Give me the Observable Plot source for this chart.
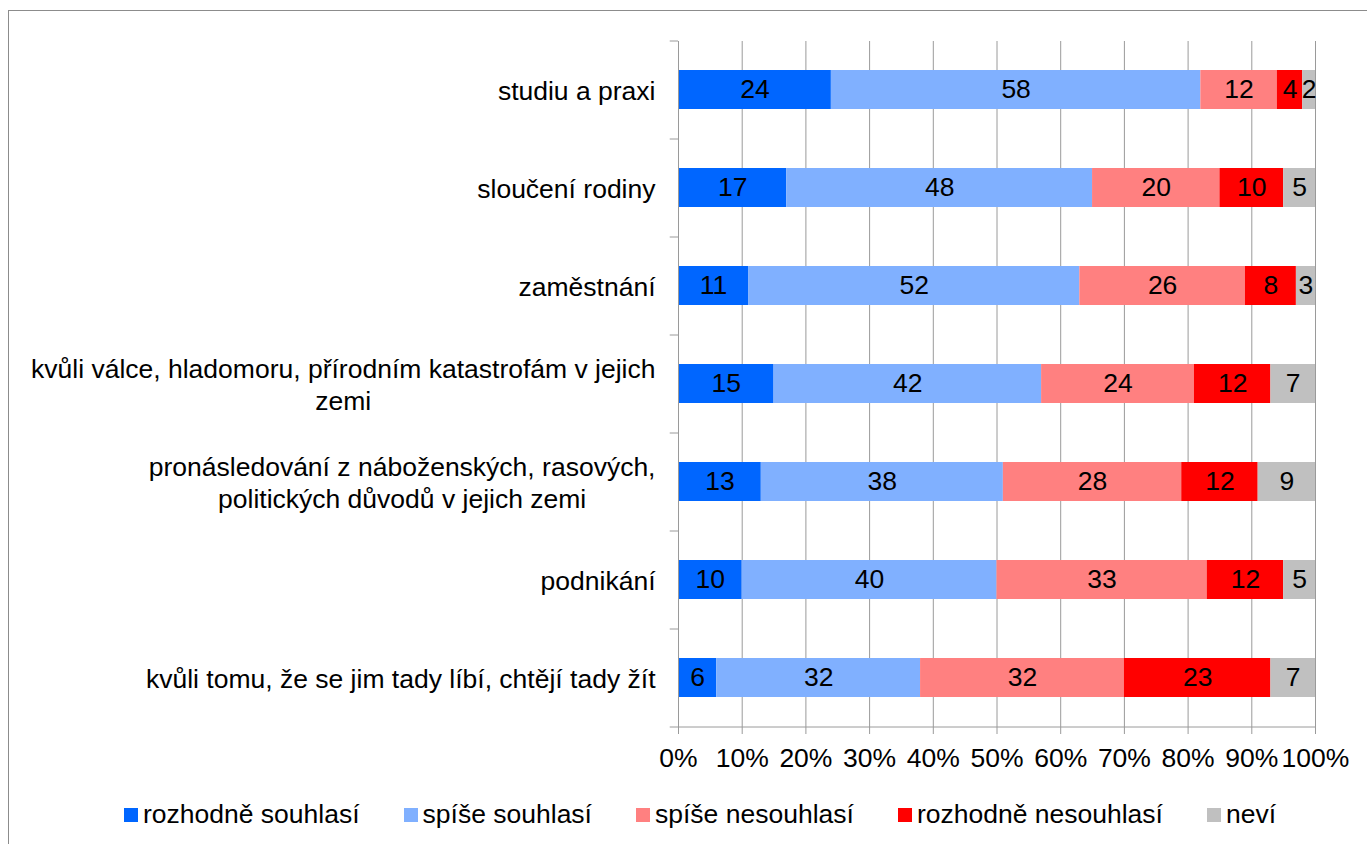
<!DOCTYPE html>
<html>
<head>
<meta charset="utf-8">
<script src="https://cdn.jsdelivr.net/npm/d3@7"></script>
<script src="https://cdn.jsdelivr.net/npm/@observablehq/plot@0.6"></script>
<style>
  html, body { margin: 0; padding: 0; background: #fff; }
  #wrap { position: relative; width: 1367px; height: 844px; overflow: hidden; font-family: "Liberation Sans", Arial, sans-serif; }
  #frame { position: absolute; left: 8px; top: 10px; width: 1500px; height: 1000px; border-left: 1px solid #8c8c8c; border-top: 1px solid #8c8c8c; }
  #chart { position: absolute; left: 0; top: 0; }
  #legend { position: absolute; left: 124px; top: 799px; display: flex; align-items: center; font-size: 26.5px; color: #000; white-space: nowrap; }
  .item { display: flex; align-items: center; margin-right: 44px; }
  .sw { width: 14px; height: 14px; margin-right: 5px; }
</style>
</head>
<body>
<div id="wrap">
  <div id="frame"></div>
  <div id="chart"></div>
  <div id="legend"></div>
</div>
<script>
const categories = [
  "studiu a praxi",
  "sloučení rodiny",
  "zaměstnání",
  "kvůli válce, hladomoru, přírodním katastrofám v jejich\nzemi",
  "pronásledování z náboženských, rasových,\npolitických důvodů v jejich zemi",
  "podnikání",
  "kvůli tomu, že se jim tady líbí, chtějí tady žít"
];
const series = ["rozhodně souhlasí", "spíše souhlasí", "spíše nesouhlasí", "rozhodně nesouhlasí", "neví"];
const colors = ["#0066ff", "#80b0ff", "#ff8080", "#ff0000", "#c0c0c0"];

const rozhodneSouhlasi   = [24, 17, 11, 15, 13, 10, 6];
const spiseSouhlasi      = [58, 48, 52, 42, 38, 40, 32];
const spiseNesouhlasi    = [12, 20, 26, 24, 28, 33, 32];
const rozhodneNesouhlasi = [4, 10, 8, 12, 12, 12, 23];
const nevi               = [2, 5, 3, 7, 9, 5, 7];

const xTicks = [0, 10, 20, 30, 40, 50, 60, 70, 80, 90, 100];

const seriesValues = [rozhodneSouhlasi, spiseSouhlasi, spiseNesouhlasi, rozhodneNesouhlasi, nevi];
const rows = [];
categories.forEach((cat, i) => {
  series.forEach((s, j) => rows.push({cat, series: s, value: seriesValues[j][i]}));
});

const font = "'Liberation Sans', Arial, sans-serif";
const gray = "#9a9a9a";
const lastCat = categories[categories.length - 1];

const plot = Plot.plot({
  width: 1367,
  height: 790,
  marginLeft: 678,
  marginRight: 52,
  marginTop: 41,
  marginBottom: 63,
  style: {fontFamily: font, fontSize: "26.5px", color: "#000", background: "transparent", overflow: "visible"},
  x: {domain: [0, 100], label: null},
  y: {domain: categories, paddingInner: 0.6, paddingOuter: 0.3, label: null},
  color: {domain: series, range: colors},
  marks: [
    Plot.gridX(xTicks, {stroke: gray, strokeOpacity: 1, strokeWidth: 1}),
    Plot.barX(rows, Plot.stackX({x: "value", y: "cat", fill: "series", z: "series"})),
    Plot.text(rows, Plot.stackX({x: "value", y: "cat", z: "series", text: d => String(d.value), fill: "#000", fontSize: 26.5, fontFamily: font})),
    Plot.ruleX([0], {stroke: gray}),
    // category boundary ticks on the left axis
    Plot.ruleY(categories, {x1: -1.3, x2: 0, dy: -49, stroke: gray}),
    // bottom axis line (and last boundary tick)
    Plot.ruleY([lastCat], {x1: -1.3, x2: 100, dy: 49, stroke: gray}),
    Plot.axisX({ticks: xTicks, tickFormat: d => d + "%", tickSize: 7, tickPadding: 14, stroke: gray, fill: "#000", fontSize: 26.5, label: null}),
    Plot.axisY({tickSize: 0, tickPadding: 23, fontSize: 26.5, lineHeight: 1.2, fill: "#000", label: null})
  ]
});

document.getElementById("chart").appendChild(plot);

// center multi-line category labels as a block (right-aligned block)
plot.querySelectorAll('g[aria-label="y-axis tick label"] text').forEach(t => {
  const spans = t.querySelectorAll("tspan");
  if (spans.length > 1) {
    const w = t.getBBox().width;
    t.setAttribute("text-anchor", "middle");
    spans.forEach(s => s.setAttribute("x", -w / 2));
  }
});

// legend
const legend = document.getElementById("legend");
series.forEach((s, j) => {
  const item = document.createElement("div");
  item.className = "item";
  const sw = document.createElement("div");
  sw.className = "sw";
  sw.style.background = colors[j];
  const label = document.createElement("span");
  label.textContent = s;
  item.appendChild(sw);
  item.appendChild(label);
  legend.appendChild(item);
});
</script>
</body>
</html>
